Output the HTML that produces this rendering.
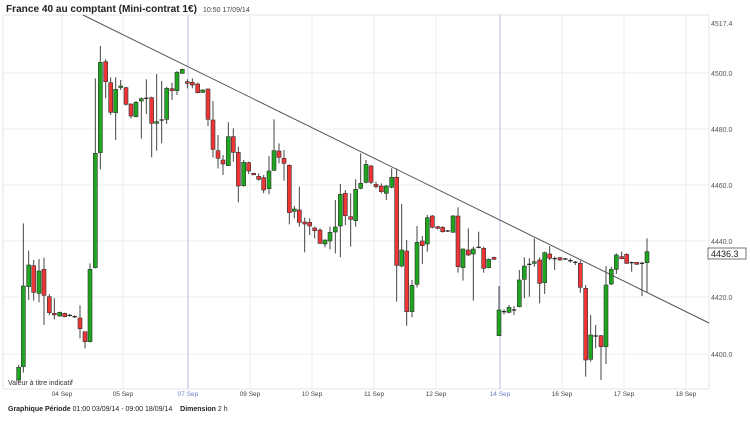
<!DOCTYPE html>
<html><head><meta charset="utf-8"><style>
body{margin:0;background:#fff;width:750px;height:416px;overflow:hidden;font-family:"Liberation Sans",sans-serif}
</style></head><body>
<svg id="s" width="750" height="416" xmlns="http://www.w3.org/2000/svg" font-family="Liberation Sans, sans-serif">
<text x="6" y="12" font-size="10.5" font-weight="bold" fill="#222" textLength="191" lengthAdjust="spacingAndGlyphs">France 40 au comptant (Mini-contrat 1€)</text>
<text x="203" y="12" font-size="7" fill="#444">10:50 17/09/14</text>
<g id="grid"></g>
<g id="c"></g>
<line x1="83" y1="15" x2="709" y2="323" stroke="#555" stroke-width="1"/>
<text x="8" y="385" font-size="7" fill="#333">Valeur à titre indicatif</text>
<rect x="708" y="248" width="38" height="11" fill="#fff" stroke="#555" stroke-width="0.8"/>
<text x="711" y="257" font-size="9" fill="#222">4436.3</text>
<text x="8" y="411" font-size="7" fill="#222"><tspan font-weight="bold">Graphique Période</tspan> 01:00 03/09/14 - 09:00 18/09/14 <tspan font-weight="bold" dx="6">Dimension</tspan> 2 h</text>
</svg>
<script>
var NS="http://www.w3.org/2000/svg",g=document.getElementById('grid'),c=document.getElementById('c');
function el(p,t,a,txt){var e=document.createElementNS(NS,t);for(var k in a)e.setAttribute(k,a[k]);if(txt)e.textContent=txt;p.appendChild(e);return e;}
el(g,'rect',{x:3,y:15,width:706,height:374,fill:'none',stroke:'#e6e6e6'});
var yl=[[4500,73],[4480,129],[4460,185],[4440,241],[4420,297],[4400,354]];
yl.forEach(function(v){el(g,'line',{x1:3,x2:709,y1:v[1],y2:v[1],stroke:'#ececec'});el(g,'text',{x:711,y:v[1]+3,'font-size':7,fill:'#555'},v[0].toFixed(1));});
el(g,'text',{x:711,y:26,'font-size':7,fill:'#555'},'4517.4');
var xs=[[62,'04 Sep'],[123,'05 Sep'],[188,'07 Sep',1],[250,'09 Sep'],[312,'10 Sep'],[374,'11 Sep'],[436,'12 Sep'],[500,'14 Sep',1],[562,'16 Sep'],[624,'17 Sep'],[686,'18 Sep']];
xs.forEach(function(v){el(g,'line',{x1:v[0],x2:v[0],y1:15,y2:389,stroke:v[2]?'#b8c0dc':'#ececec'});el(g,'text',{x:v[0],y:396,'font-size':6.5,fill:v[2]?'#6a7fc0':'#444','text-anchor':'middle'},v[1]);});
var A=[[56,982,1020,'g',975,1025],[70,738,980,'g',550,998],[86,675,740,'g',632,780],[101,677,757,'r',660,782],[117,693,760,'g',657,787],[132,688,766,'r',653,855],[148,770,818,'r',762,826],[163,820,824,'r',775,838],[179,817,828,'g',815,830],[194,820,830,'r',818,832],[209,825,827,'d',822,830],[224,829,831,'d',826,834],[240,834,866,'r',796,895],[255,875,905,'r',875,925],[270,688,905,'g',670,907],[286,340,683,'g',115,685],[301,67,338,'g',18,388],[317,65,125,'r',58,175],[332,128,217,'r',112,225],[347,148,218,'g',112,300],[362,138,142,'g',120,150],[378,143,193,'r',140,197],[393,192,228,'r',190,235],[408,187,230,'g',183,232],[424,176,183,'g',172,296],[439,174,176,'d',118,222],[455,173,250,'r',170,352],[470,245,250,'g',102,332],[485,239,241,'d',123,310],[500,145,238,'g',140,252],[516,146,152,'r',128,180],[531,97,152,'g',93,165],[547,88,100,'g',86,102],[562,125,130,'r',118,145],[577,127,135,'r',115,145],[593,132,158,'r',128,160],[608,150,157,'g',148,159],[624,147,238,'r',145,258],[639,240,328,'r',183,352],[654,332,355,'r',285,385],[669,360,372,'r',345,405],[685,290,377,'g',247,378],[700,290,337,'r',265,365],[715,337,438,'r',320,487],[731,367,437,'g',360,440]];
var B=[[26,188,213,'r',185,222],[41,220,223,'r',218,225],[56,229,238,'r',220,242],[71,233,270,'r',225,280],[87,213,266,'g',168,283],[102,152,211,'g',58,213],[117,153,172,'r',130,190],[132,175,190,'r',150,242],[148,196,338,'r',193,373],[163,327,334,'g',318,355],[178,330,367,'r',260,380],[194,366,372,'r',353,457],[209,367,378,'r',355,405],[224,384,392,'r',380,415],[240,390,430,'r',385,432],[255,420,432,'g',418,442],[270,397,423,'g',380,448],[286,381,396,'g',300,460],[301,283,378,'g',252,472],[316,280,347,'r',270,375],[332,350,358,'r',280,440],[347,268,362,'g',238,380],[362,250,265,'g',160,268],[378,193,247,'g',180,250],[393,198,247,'r',195,252],[408,253,260,'r',245,265],[424,258,275,'r',250,280],[439,258,280,'g',255,300],[455,232,262,'g',205,265],[470,232,496,'r',205,605],[485,450,498,'g',312,502],[500,453,635,'r',420,677],[516,556,635,'g',540,652],[531,427,553,'g',378,562],[547,423,437,'r',408,492],[562,353,432,'g',345,455],[577,348,382,'r',345,385],[593,380,385,'r',378,388],[608,382,395,'r',378,398],[623,392,394,'d',390,396],[639,348,397,'g',345,398],[654,348,500,'r',322,518],[669,447,503,'g',445,542],[685,450,465,'r',385,468],[700,447,462,'g',440,602],[716,441,443,'d',395,445],[731,445,505,'r',440,518]];
var C=[[26,178,203,'g',175,205],[42,172,178,'r',170,180],[57,330,407,'g',258,408],[72,334,336,'d',328,343],[87,322,337,'g',315,340],[102,329,331,'d',318,345],[118,240,320,'g',210,322],[133,198,238,'g',172,295],[148,192,194,'d',175,290],[163,185,190,'g',115,200],[179,180,250,'r',172,310],[194,158,248,'g',155,282],[209,162,175,'r',138,180],[224,175,177,'d',170,210],[240,173,180,'r',171,182],[256,176,178,'d',174,180],[271,181,183,'d',175,188],[286,186,188,'d',183,195],[301,190,262,'r',182,278],[317,265,480,'r',255,530],[332,405,478,'g',345,485],[347,407,409,'d',375,445],[363,407,440,'r',405,540],[378,255,440,'g',198,492],[394,208,252,'g',200,255],[409,165,208,'g',160,222],[425,170,176,'r',155,178],[440,163,190,'r',160,192],[455,187,189,'d',185,215],[470,187,193,'r',186,194],[486,189,191,'d',185,288],[501,155,188,'g',115,278]];
function draw(arr,ox,oy){arr.forEach(function(d){var x=ox+d[0]/3,t=oy+d[1]/3,b=oy+d[2]/3,wt=oy+d[4]/3,wb=oy+d[5]/3;
el(c,'line',{x1:x,x2:x,y1:wt,y2:wb,stroke:'#444','stroke-width':1});
if(d[3]=='d'){el(c,'line',{x1:x-2.2,x2:x+2.2,y1:(t+b)/2,y2:(t+b)/2,stroke:'#222','stroke-width':1.2});}
else el(c,'rect',{x:x-2,y:t,width:4,height:Math.max(b-t,1.5),fill:d[3]=='g'?'#1fa51f':'#ee3535',stroke:'#333','stroke-width':0.6});});}
draw(A,0,40);draw(B,240,100);draw(C,480,200);
</script>
</body></html>
